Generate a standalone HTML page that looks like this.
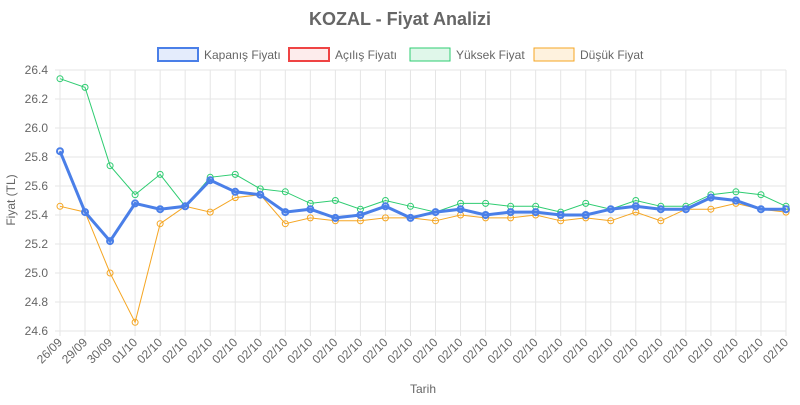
<!DOCTYPE html>
<html><head><meta charset="utf-8"><style>
body{margin:0;background:#fff;font-family:"Liberation Sans",sans-serif}
</style></head><body>
<svg id="c" width="800" height="400" xmlns="http://www.w3.org/2000/svg" font-family="Liberation Sans, sans-serif"></svg>
<script>
const C=[25.84,25.42,25.22,25.48,25.44,25.46,25.64,25.56,25.54,25.42,25.44,25.38,25.40,25.46,25.38,25.42,25.44,25.40,25.42,25.42,25.40,25.40,25.44,25.46,25.44,25.44,25.52,25.50,25.44,25.44];
const H=[26.34,26.28,25.74,25.54,25.68,25.46,25.66,25.68,25.58,25.56,25.48,25.50,25.44,25.50,25.46,25.42,25.48,25.48,25.46,25.46,25.42,25.48,25.44,25.50,25.46,25.46,25.54,25.56,25.54,25.46];
const L=[25.46,25.42,25.00,24.66,25.34,25.46,25.42,25.52,25.54,25.34,25.38,25.36,25.36,25.38,25.38,25.36,25.40,25.38,25.38,25.40,25.36,25.38,25.36,25.42,25.36,25.44,25.44,25.48,25.44,25.42];
const labs=["26/09","29/09","30/09","01/10"];for(let i=4;i<30;i++)labs.push("02/10");
const X=i=>60+i*(726/29), Y=v=>70+(26.4-v)/0.2*29;
let s='';
s+='<text x="400" y="25" text-anchor="middle" font-size="18" font-weight="bold" fill="#666">KOZAL - Fiyat Analizi</text>';
for(let k=0;k<=9;k++){const v=26.4-k*0.2,y=Y(v);s+=`<line x1="55" x2="786" y1="${y}" y2="${y}" stroke="#e5e5e5"/>`;s+=`<text x="48" y="${y+4}" text-anchor="end" font-size="12" fill="#666">${v.toFixed(1)}</text>`;}
for(let i=0;i<30;i++){const x=X(i);s+=`<line x1="${x}" x2="${x}" y1="70" y2="336" stroke="#e5e5e5"/>`;s+=`<text transform="translate(${x+3},343) rotate(-45)" text-anchor="end" font-size="12" fill="#666">${labs[i]}</text>`;}
s+='<text x="423" y="393" text-anchor="middle" font-size="12" fill="#666">Tarih</text>';
s+='<text transform="translate(15,200) rotate(-90)" text-anchor="middle" font-size="12" fill="#666">Fiyat (TL)</text>';
function line(d,col,w,r){let p=d.map((v,i)=>`${X(i)},${Y(v)}`).join(' ');let o=`<polyline points="${p}" fill="none" stroke="${col}" stroke-width="${w}"/>`;d.forEach((v,i)=>o+=`<circle cx="${X(i)}" cy="${Y(v)}" r="${r}" fill="none" stroke="${col}" stroke-width="${w==3?2:1}"/>`);return o;}
s+=line(L,'#f5a623',1,3);
s+=line(H,'#2ecc71',1,3);
s+=line(C,'#ef4444',2,3);
s+=line(C,'#4a7fe8',3,3);
const leg=[[158,'Kapanış Fiyatı','#4a7fe8','rgba(74,127,232,0.15)',2],[289,'Açılış Fiyatı','#ef4444','rgba(239,68,68,0.1)',2],[410,'Yüksek Fiyat','#2ecc71','rgba(46,204,113,0.15)',1],[534,'Düşük Fiyat','#f5a623','rgba(245,166,35,0.15)',1]];
leg.forEach(([x,t,c,f,w])=>{s+=`<rect x="${x}" y="48" width="40" height="13" fill="${f}" stroke="${c}" stroke-width="${w}"/>`;s+=`<text x="${x+46}" y="59" font-size="12" fill="#666">${t}</text>`;});
document.getElementById('c').innerHTML=s;
</script>
</body></html>
